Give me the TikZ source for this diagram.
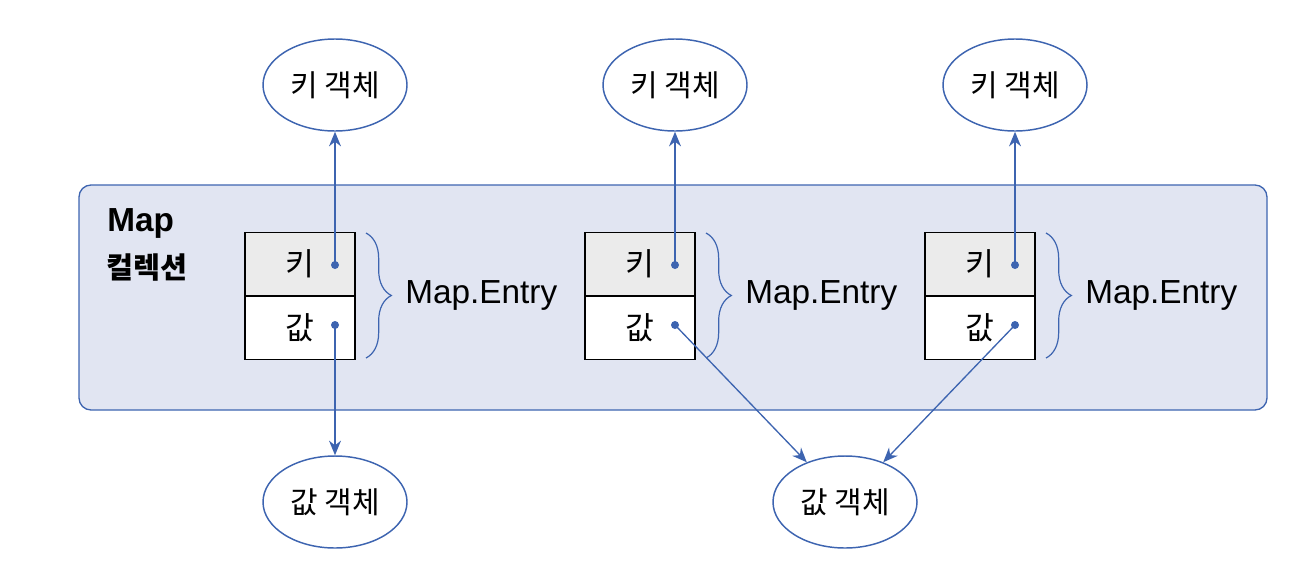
\documentclass[tikz,border=0pt]{standalone}
\usepackage{fontspec}
\setmainfont{Noto Sans CJK KR}
\newfontfamily\latinfont{Liberation Sans}
\usetikzlibrary{arrows.meta,shapes.geometric,decorations.pathreplacing}
\definecolor{lineblue}{HTML}{3D64B0}
\definecolor{mapfill}{HTML}{E1E5F2}
\definecolor{keyfill}{HTML}{EBEBEB}

\begin{document}
\begin{tikzpicture}[x=0.75pt,y=-0.75pt,
    dot/.style={circle,fill=lineblue,minimum size=6pt,inner sep=0pt},
    obj/.style={ellipse,draw=lineblue,line width=1.1pt,fill=white,minimum width=108pt,minimum height=69pt,inner sep=0pt,font=\fontsize{22.5}{26}\selectfont},
    keycell/.style={rectangle,draw=black,line width=1pt,fill=keyfill,minimum width=82.5pt,minimum height=47pt,inner sep=0pt,font=\fontsize{23.5}{27}\selectfont},
    valcell/.style={keycell,fill=white},
    arr/.style={draw=lineblue,line width=1pt,-{Stealth[length=11pt,width=9pt]}},
    entrybrace/.style={draw=lineblue,line width=0.9pt,decorate,decoration={brace,amplitude=19pt}},
    entrylabel/.style={anchor=west,inner sep=0pt,font=\latinfont\fontsize{25}{29}\selectfont}]
\useasboundingbox (0,0) rectangle (1312,582);

\draw[draw=lineblue,fill=mapfill,line width=1pt,rounded corners=9pt] (79,185) rectangle (1267,410);
\node[anchor=west,inner sep=0pt,font=\latinfont\fontsize{25}{29}\selectfont\bfseries] (maptitle) at (107,223) {Map};
\node[anchor=west,inner sep=0pt,font=\fontsize{22}{26}\selectfont\bfseries] (mapsub) at (106,268) {컬렉션};

\node[keycell] (key1) at (300,264) {키};
\node[valcell,anchor=north] (val1) at (key1.south) {값};
\node[keycell] (key2) at (640,264) {키};
\node[valcell,anchor=north] (val2) at (key2.south) {값};
\node[keycell] (key3) at (980,264) {키};
\node[valcell,anchor=north] (val3) at (key3.south) {값};

\draw[entrybrace] (366,233) -- (366,358) coordinate[pos=0.5] (b1);
\draw[entrybrace] (706,233) -- (706,358) coordinate[pos=0.5] (b2);
\draw[entrybrace] (1046,233) -- (1046,358) coordinate[pos=0.5] (b3);
\node[entrylabel] (entry1) at (405,295) {Map.Entry};
\node[entrylabel] (entry2) at (745,295) {Map.Entry};
\node[entrylabel] (entry3) at (1085,295) {Map.Entry};

\node[obj] (keyobj1) at (335,85) {키 객체};
\node[obj] (keyobj2) at (675,85) {키 객체};
\node[obj] (keyobj3) at (1015,85) {키 객체};
\node[obj] (valobj1) at (335,502) {값 객체};
\node[obj] (valobj2) at (845,502) {값 객체};

\node[dot] (kdot1) at (335,265) {};
\node[dot] (vdot1) at (335,325) {};
\node[dot] (kdot2) at (675,265) {};
\node[dot] (vdot2) at (675,325) {};
\node[dot] (kdot3) at (1015,265) {};
\node[dot] (vdot3) at (1015,325) {};

\draw[arr] (kdot1.center) -- (keyobj1);
\draw[arr] (kdot2.center) -- (keyobj2);
\draw[arr] (kdot3.center) -- (keyobj3);
\draw[arr] (vdot1.center) -- (valobj1);
\draw[arr] (vdot2.center) -- (valobj2);
\draw[arr] (vdot3.center) -- (valobj2);
\end{tikzpicture}
\end{document}
